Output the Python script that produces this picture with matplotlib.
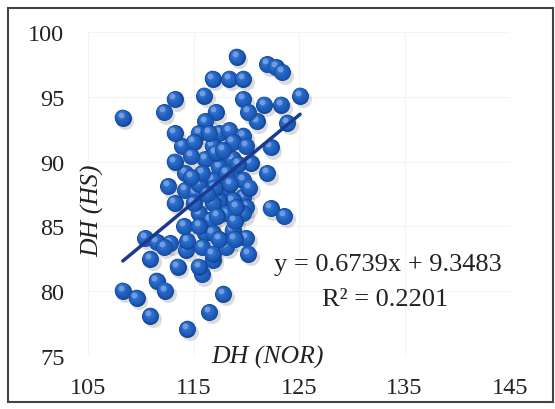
import matplotlib
matplotlib.use("Agg")
import matplotlib.pyplot as plt
import numpy as np
from matplotlib.transforms import offset_copy
from matplotlib.patches import Rectangle

# DH (NOR) vs DH (HS)
dh_nor = [108.3, 108.3, 109.6, 110.9, 111.5, 112.3, 114.4, 116.5, 117.8, 113.5,
          115.8, 116.8, 110.9, 110.4, 111.5, 112.8, 114.3, 114.4, 114.1, 115.5,
          116.6, 116.1, 115.8, 116.8, 118.1, 118.7, 120.0, 120.2, 113.2, 114.2,
          115.2, 114.2, 113.2, 113.9, 113.2, 112.2, 113.2, 116.0, 116.8, 118.4,
          119.7, 119.1, 122.0, 122.8, 123.4, 119.7, 121.7, 123.3, 125.1, 123.9,
          121.0, 120.2, 117.1, 116.1, 115.5, 117.4, 118.4, 119.7, 115.0, 116.8,
          118.1, 122.3, 120.4, 122.0, 116.1, 117.4, 118.7, 119.7, 116.8, 115.5,
          118.1, 119.7, 118.7, 117.4, 120.0, 119.7, 118.1, 122.3, 123.6, 116.8,
          117.4, 118.9, 112.6, 116.8, 115.5, 115.0, 118.1, 116.5, 114.8, 115.8,
          118.7, 117.1, 118.7, 120.0, 115.5, 112.2, 117.0, 118.5, 117.8, 119.2,
          116.3, 118.9, 117.2, 114.8, 120.3, 119.0]
dh_hs = [93.4, 80.05, 79.5, 78.1, 80.8, 80.05, 77.1, 78.4, 79.8, 81.9,
         81.3, 82.4, 82.5, 84.1, 83.8, 83.7, 83.2, 83.9, 85.0, 86.0,
         85.5, 84.5, 83.4, 82.9, 83.4, 84.7, 84.1, 82.9, 86.8, 87.8,
         87.6, 89.1, 90.0, 91.2, 92.2, 93.8, 94.8, 95.1, 96.4, 96.4,
         96.4, 98.1, 97.5, 97.3, 96.9, 94.8, 94.4, 94.4, 95.1, 93.0,
         93.1, 93.8, 93.8, 93.1, 92.2, 92.2, 92.4, 92.0, 91.5, 91.2,
         90.7, 91.1, 89.9, 89.1, 90.2, 89.6, 89.1, 88.6, 88.6, 88.3,
         87.9, 87.3, 87.0, 87.0, 86.5, 86.0, 86.0, 86.4, 85.8, 84.5,
         84.0, 84.0, 88.1, 86.8, 85.0, 86.8, 89.1, 92.2, 90.4, 89.1,
         91.5, 90.7, 90.2, 91.2, 81.9, 83.4, 88.0, 88.3, 90.9, 89.8,
         87.5, 85.4, 85.8, 88.8, 88.0, 86.5]

slope, intercept = 0.6739, 9.3483
eq_text = "y = 0.6739x + 9.3483"
r2_text = "R² = 0.2201"
x_ticks = [105, 115, 125, 135, 145]
y_ticks = [75, 80, 85, 90, 95, 100]

plt.rcParams['font.family'] = ['Liberation Serif', 'DejaVu Serif']

fig = plt.figure(figsize=(5.55, 4.10), dpi=100)
ax = fig.add_axes([0.1586, 0.1293, 0.7604, 0.7902])

ax.set_xlim(105, 145)
ax.set_ylim(75, 100)
ax.set_xticks(x_ticks)
ax.set_yticks(y_ticks)
ax.tick_params(length=0, labelsize=17.5, colors='#222222')
ax.tick_params(axis='y', pad=17)
ax.tick_params(axis='x', pad=15)
for s in ax.spines.values():
    s.set_visible(False)
ax.grid(True, color='#f4f4f4', lw=0.8)
ax.set_axisbelow(True)

# trendline
xs = np.array([min(dh_nor), max(dh_nor)])
ax.plot(xs, slope * xs + intercept, color='#1b3a8e', lw=2.5, zorder=5,
        solid_capstyle='round')

# sphere-like markers: shadow, then shaded layers per point
base = 150
shadow_tr = offset_copy(ax.transData, fig=fig, x=1.8, y=-2.4, units='points')
ax.scatter(dh_nor, dh_hs, s=base, color='#000000', alpha=0.14, lw=0,
           transform=shadow_tr, zorder=2)

layers = [(1.0, '#154796', 0.0, 0.0),
          (0.84, '#1b56b0', -0.3, 0.3),
          (0.62, '#1f5fbd', -0.7, 0.8),
          (0.34, '#2c6cc9', -1.2, 1.5),
          (0.12, '#6f9ce0', -1.6, 2.1)]
layer_tr = [offset_copy(ax.transData, fig=fig, x=dx, y=dy, units='points')
            for _, _, dx, dy in layers]
z = 3
for xi, yi in zip(dh_nor, dh_hs):
    for (frac, col, _, _), tr in zip(layers, layer_tr):
        ax.scatter([xi], [yi], s=base * frac, color=col, lw=0,
                   transform=tr, zorder=z)
        z += 0.001

ax.text(133.4, 82.1, eq_text, fontsize=19, ha='center', va='center',
        color='#222222', zorder=10)
ax.text(133.2, 79.4, r2_text, fontsize=19, ha='center', va='center',
        color='#222222', zorder=10)

ax.text(0.012, 0.45, "DH (HS)", transform=ax.transAxes, rotation=90,
        fontsize=18.5, style='italic', ha='center', va='center', color='#222222')
ax.text(0.4265, 0.0, "DH (NOR)", transform=ax.transAxes,
        fontsize=18.5, style='italic', ha='center', va='center', color='#222222')

# outer chart frame
fig.patches.append(Rectangle((8 / 555, 7 / 410), 545 / 555, 394 / 410,
                             transform=fig.transFigure, fill=False,
                             edgecolor='#444444', lw=1.5))

fig.savefig("out.png", dpi=100)
